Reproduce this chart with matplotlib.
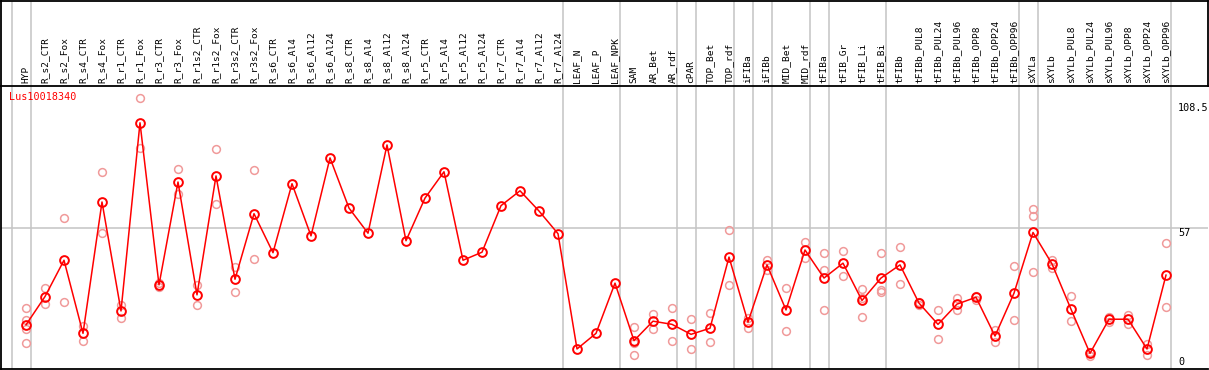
import matplotlib
matplotlib.use("Agg")
import matplotlib.pyplot as plt
import matplotlib.transforms as mtransforms

gene = "Lus10018340"

categories = [
    "HYP", "R_s2_CTR", "R_s2_Fox", "R_s4_CTR", "R_s4_Fox", "R_r1_CTR", "R_r1_Fox",
    "R_r3_CTR", "R_r3_Fox", "R_r1s2_CTR", "R_r1s2_Fox", "R_r3s2_CTR", "R_r3s2_Fox",
    "R_s6_CTR", "R_s6_Al4", "R_s6_Al12", "R_s6_Al24", "R_s8_CTR", "R_s8_Al4",
    "R_s8_Al12", "R_s8_Al24", "R_r5_CTR", "R_r5_Al4", "R_r5_Al12", "R_r5_Al24",
    "R_r7_CTR", "R_r7_Al4", "R_r7_Al12", "R_r7_Al24", "LEAF_N", "LEAF_P", "LEAF_NPK",
    "SAM", "AR_Bet", "AR_rdf", "cPAR", "TOP_Bet", "TOP_rdf", "iFIBa", "iFIBb",
    "MID_Bet", "MID_rdf", "tFIBa", "tFIB_Gr", "tFIB_Li", "tFIB_Bi", "tFIBb",
    "tFIBb_PUL8", "tFIBb_PUL24", "tFIBb_PUL96", "tFIBb_OPP8", "tFIBb_OPP24",
    "tFIBb_OPP96", "sXYLa", "sXYLb", "sXYLb_PUL8", "sXYLb_PUL24", "sXYLb_PUL96",
    "sXYLb_OPP8", "sXYLb_OPP24", "sXYLb_OPP96",
]

mean_values = [
    17.3, 28.9, 43.8, 13.8, 67.7, 23.0, 100.2,
    33.7, 75.9, 29.6, 78.4, 36.0, 62.9,
    46.9, 75.2, 53.8, 85.8, 65.2, 54.9,
    91.1, 51.8, 69.3, 80.1, 43.8, 47.1,
    66.2, 72.3, 64.0, 54.7, 7.4, 13.8, 34.4,
    10.8, 18.8, 17.5, 13.4, 15.9, 45.1, 18.4, 41.9,
    23.4, 48.0, 36.5, 42.6, 27.3, 36.5, 41.9,
    26.2, 17.5, 25.8, 28.6, 12.7,
    30.3, 55.2, 42.3, 23.7, 5.6, 19.6,
    19.6, 7.4, 37.7,
]

replicate_values = [
    [24.1, 19.3, 15.5, 9.7], [32.3, 26.0], [61.1, 26.6], [16.9, 10.8], [80.0, 54.9],
    [25.5, 20.3], [110.4, 89.9],
    [34.4, 33.0], [81.3, 71.0], [33.7, 25.5], [89.5, 66.9], [41.2, 30.8], [80.8, 44.4],
    [], [], [], [], [], [],
    [], [], [], [], [], [],
    [], [], [], [], [], [], [],
    [16.6, 10.8, 9.7, 4.8], [21.8, 15.5], [24.1, 10.7], [19.7, 7.4], [22.1, 10.2],
    [56.3, 33.7], [20.3, 16.2], [44.0, 39.9],
    [32.3, 14.7], [51.3, 44.7], [46.7, 39.9, 23.4], [47.4, 37.5], [31.9, 28.2, 20.7],
    [46.7, 31.6, 30.9], [49.2, 34.0],
    [26.8, 25.6], [23.4, 11.4], [28.2, 23.4], [29.2, 27.5], [15.2, 10.4],
    [41.5, 19.3], [64.9, 62.1, 38.9], [44.0, 40.6], [29.2, 18.9], [6.3, 4.6], [20.7, 18.4],
    [21.4, 17.7], [9.5, 4.9], [50.8, 24.8],
]

# categories after which a separator line is drawn (None = before first)
group_ends = [None, "HYP", "R_r7_Al24", "LEAF_NPK", "AR_rdf", "cPAR", "TOP_rdf",
              "iFIBa", "iFIBb", "MID_rdf", "tFIBa", "tFIB_Bi", "tFIBb_OPP96",
              "sXYLa", "sXYLb_OPP96"]

y_ticks = [0, 57, 108.5]
y_tick_labels = ["0", "57", "108.5"]

# ---------------------------------------------------------------- layout
W, H = 1209, 370
fig = plt.figure(figsize=(W / 100, H / 100), dpi=100)
fig.patch.set_facecolor("white")

top_px = 85.5
ax = fig.add_axes([1 / W, 1 / H, 1207 / W, (H - 1 - top_px) / H])
axl = fig.add_axes([1 / W, (H - top_px) / H, 1207 / W, (top_px - 0.5) / H], sharex=ax)

xs = list(range(len(categories)))
xlim = ((1 - 26) / 19, (1208 - 26) / 19)
ax.set_xlim(*xlim)
ax.set_ylim((367 - 369) / 2.433, (367 - 86) / 2.433)
axl.set_ylim(0, 1)

grid_c = "#c4c4c4"
for a in (ax, axl):
    a.set_xticks([])
    a.set_yticks([])
    for s in a.spines.values():
        s.set_color("black")
        s.set_linewidth(1.3)
ax.spines["right"].set_visible(False)
ax.spines["top"].set_visible(False)

# separators
for g in group_ends:
    pos = (-1 if g is None else categories.index(g)) + 0.24
    for a in (ax, axl):
        a.axvline(pos, color=grid_c, lw=1.1, zorder=0)

ax.axhline(57, color=grid_c, lw=1.1, zorder=0)

# replicates
rx, ry = [], []
for i, reps in enumerate(replicate_values):
    for v in reps:
        rx.append(i)
        ry.append(v)
ax.plot(rx, ry, ls="none", marker="o", ms=5.6, mfc="none", mec="#f09a9a", mew=1.1, zorder=2)

# means
ax.plot(xs, mean_values, color="red", lw=1.1, zorder=3)
ax.plot(xs, mean_values, ls="none", marker="o", ms=6.3, mfc="none", mec="red", mew=1.4, zorder=4)

# category labels
for i, name in enumerate(categories):
    axl.text(i, 0.03, name, rotation=90, ha="center", va="bottom",
             family="DejaVu Sans Mono", fontsize=6.8, color="black")

# right-hand value labels
trans = mtransforms.blended_transform_factory(ax.transAxes, ax.transData)
tx = (1178 - 1) / 1207
for v, lab in zip(y_ticks, y_tick_labels):
    ax.text(tx, v, lab, transform=trans, ha="left", va="bottom" if v == 0 else "top",
            family="DejaVu Sans Mono", fontsize=7.3, color="black")

ax.text((9 - 1) / 1207, (369 - 92) / 283, gene, transform=ax.transAxes, ha="left", va="top",
        family="DejaVu Sans Mono", fontsize=7.3, color="red")

fig.savefig("out.png", dpi=100, facecolor="white")
